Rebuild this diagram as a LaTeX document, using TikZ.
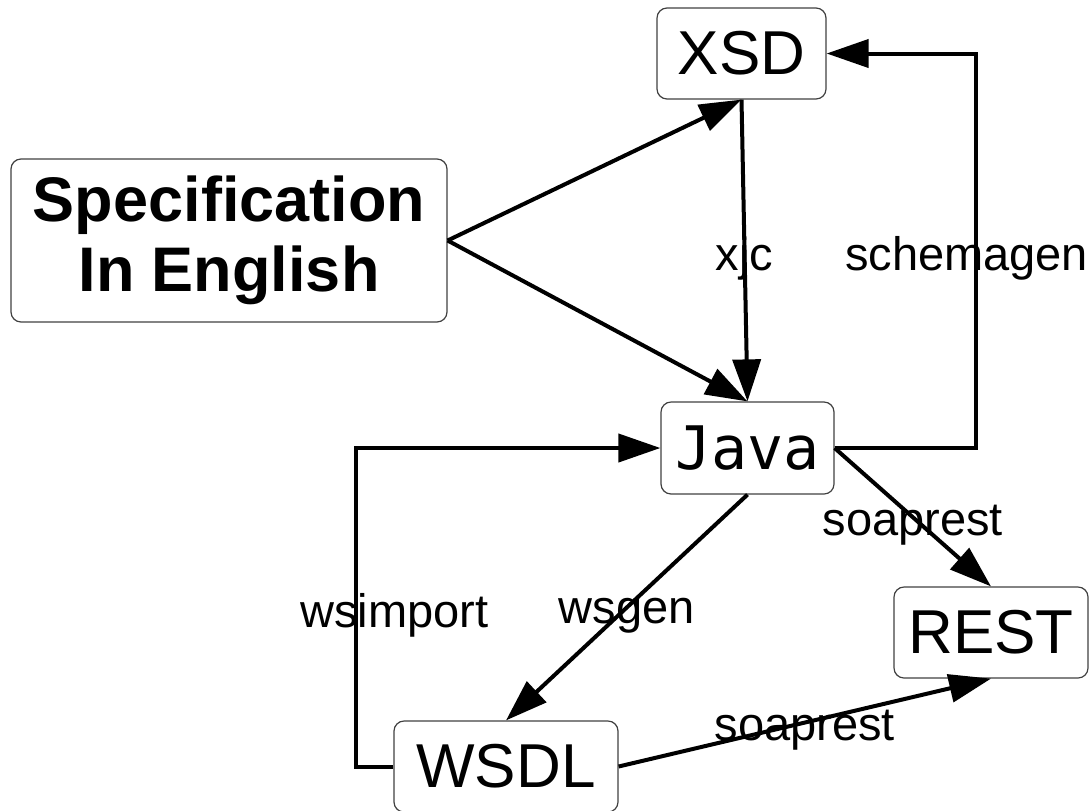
\documentclass[tikz,border=0pt]{standalone}
\usepackage{fontspec}
\setmainfont{Liberation Sans}
\newfontfamily\monofont{DejaVu Sans Mono}
\usetikzlibrary{arrows.meta}

\begin{document}
\begin{tikzpicture}[x=0.5pt,y=-0.5pt,
  box/.style={draw=black!75,line width=0.6pt,rounded corners=5pt,inner sep=0pt,minimum height=45.5pt,font=\fontsize{31}{37}\selectfont},
  conn/.style={line width=2pt,-{Triangle[length=21pt,width=14pt]}},
  lbl/.style={font=\fontsize{23.5}{28}\selectfont,inner sep=0pt,yshift=-4pt}]
\useasboundingbox (0,0) rectangle (1091,810);
\node[box,minimum width=84.5pt] (xsd) at (741.5,53.5) {XSD};
\node[box,minimum width=218pt,minimum height=81.5pt,align=center,font=\fontsize{31.5}{35}\selectfont\bfseries] (spec) at (229,240.5) {Specification\\In English};
\node[box,minimum width=86.5pt,minimum height=46pt,font=\fontsize{30}{36}\monofont] (java) at (747.5,448) {Java};
\node[box,minimum width=112pt] (wsdl) at (506,766.5) {WSDL};
\node[box,minimum width=97pt] (rest) at (991,632.5) {REST};
\draw[conn] (spec.east) -- (xsd.south);
\draw[conn] (spec.east) -- (java.north);
\draw[conn] (xsd.south) -- (java.north) node[lbl,midway] {xjc};
\draw[conn] (java.east) -- ++(141,0) |- (xsd.east) node[lbl,pos=0.25,xshift=-4.5pt] {schemagen};
\draw[conn] (java.east) -- (rest.north) node[lbl,midway] {soaprest};
\draw[conn] (java.south) -- (wsdl.north) node[lbl,midway] {wsgen};
\draw[conn] (wsdl.west) -- ++(-37,0) |- (java.west) node[lbl,pos=0.25,xshift=19pt] {wsimport};
\draw[conn] (wsdl.east) -- (rest.south) node[lbl,midway] {soaprest};
\end{tikzpicture}
\end{document}
